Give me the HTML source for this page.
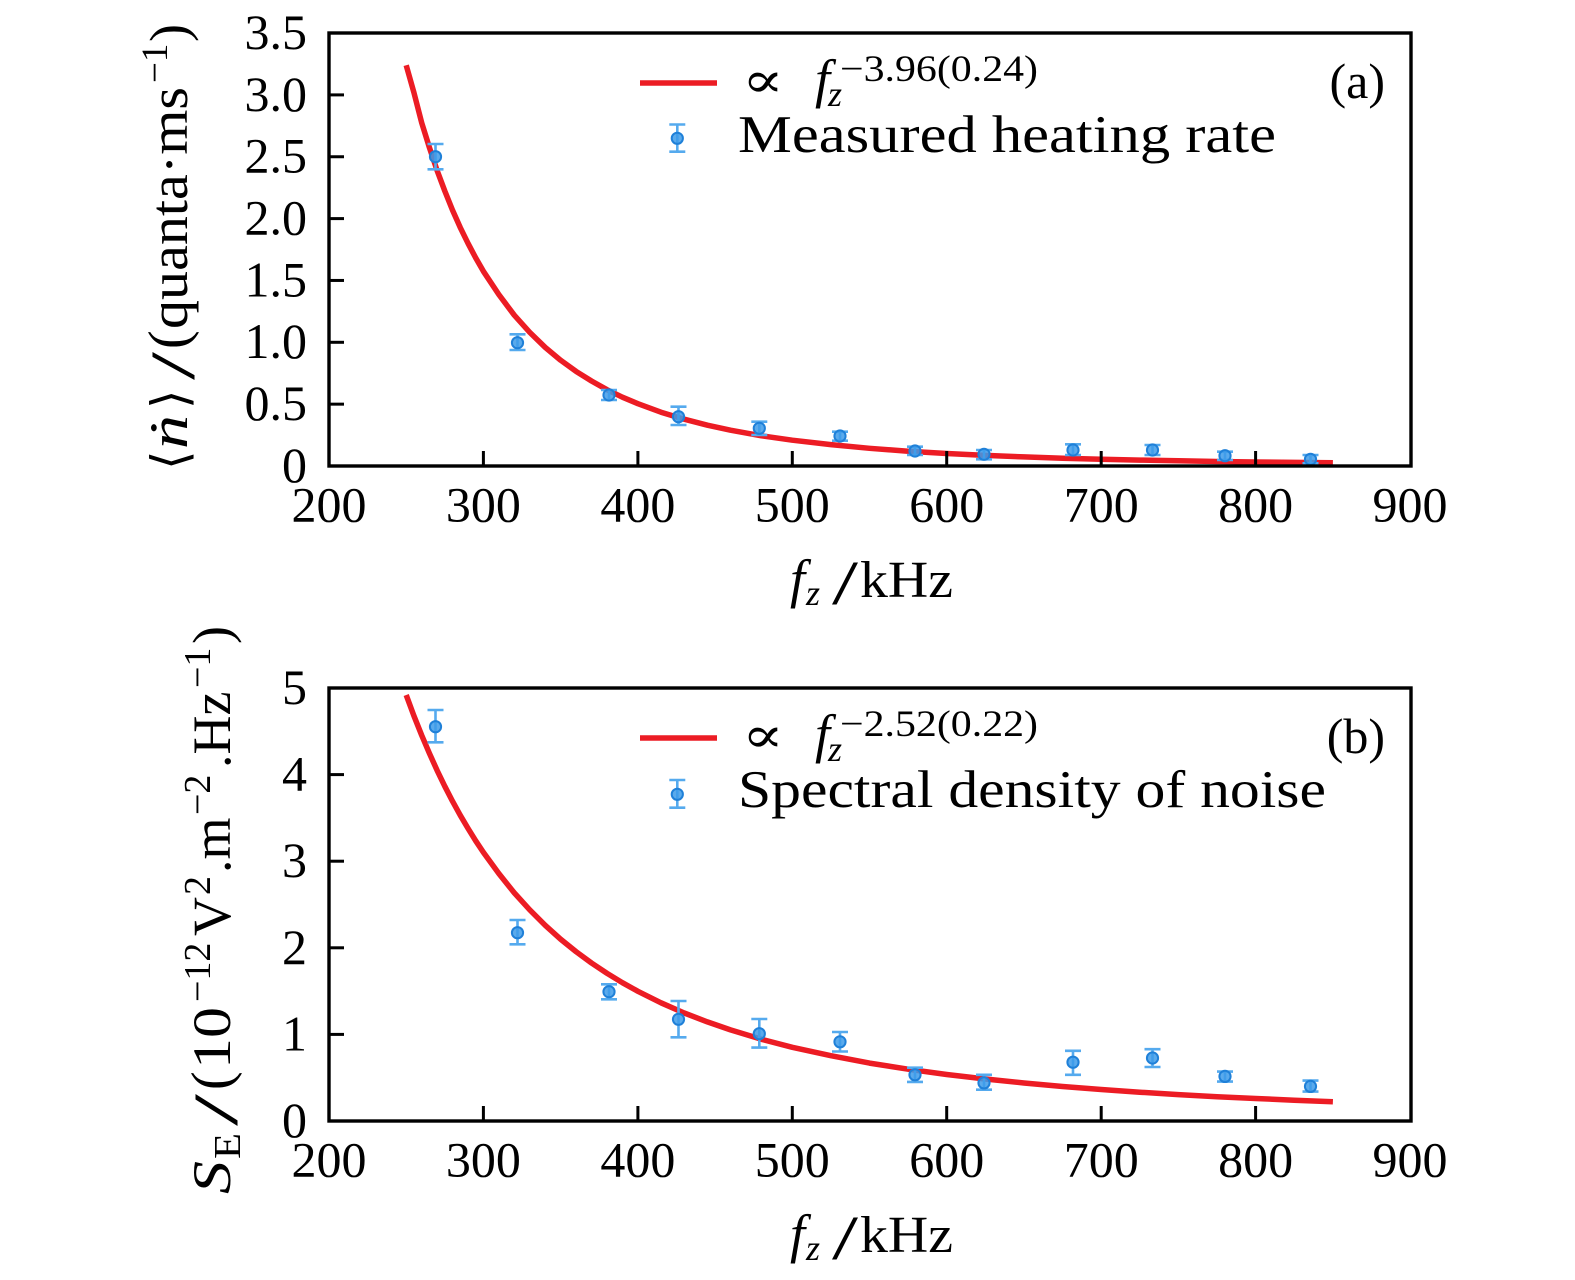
<!DOCTYPE html>
<html>
<head>
<meta charset="utf-8">
<style>
  html, body { margin:0; padding:0; background:#fff; }
  svg { display:block; }
  text { font-family: "Liberation Serif", "DejaVu Serif", serif; fill:#000; }
  .it { font-style: italic; }
  .tick { font-size: 50px; }
</style>
</head>
<body>
<svg width="1575" height="1280" viewBox="0 0 1575 1280" xmlns="http://www.w3.org/2000/svg">

  <!-- ================= PANEL (a) ================= -->
  <polyline fill="none" stroke="#ec1c24" stroke-width="5.5" stroke-linejoin="round" stroke-linecap="butt"
    points="406.2,65.2 413.9,92.5 421.7,122.8 429.4,147.5 437.1,170.5 444.8,191 452.5,210.1 460.2,227.4 468.0,243.3 475.7,257.9 483.4,271.3 498.8,294.5 514.3,315.2 529.7,332.3 545.2,347.4 560.6,360.2 576.1,371.4 591.5,381.0 607.0,389.7 622.4,397.2 637.9,403.7 661.0,412.2 684.2,419.2 707.4,425.2 730.5,430.2 761.4,435.8 792.3,440.2 830.9,444.6 869.5,448.3 908.1,451.2 946.7,453.5 985.4,455.4 1024.0,456.9 1062.6,458.2 1101.2,459.2 1139.8,460.1 1178.4,460.8 1217,461.5 1255.6,462.0 1294.2,462.4 1332.9,462.8"/>

  <g stroke="#55aaee" stroke-width="2.6" fill="none">
    <path d="M435.5,144 V169.3 M427.5,144 H443.5 M427.5,169.3 H443.5"/>
    <path d="M517.5,334.3 V350 M509.5,334.3 H525.5 M509.5,350 H525.5"/>
    <path d="M609,390 V400 M601,390 H617 M601,400 H617"/>
    <path d="M678.5,406.7 V425 M670.5,406.7 H686.5 M670.5,425 H686.5"/>
    <path d="M759.3,421.7 V435 M751.3,421.7 H767.3 M751.3,435 H767.3"/>
    <path d="M840,431.7 V440.7 M832,431.7 H848 M832,440.7 H848"/>
    <path d="M915,446.7 V455 M907,446.7 H923 M907,455 H923"/>
    <path d="M984,450 V459.3 M976,450 H992 M976,459.3 H992"/>
    <path d="M1073,444.3 V455 M1065,444.3 H1081 M1065,455 H1081"/>
    <path d="M1152.5,445 V455 M1144.5,445 H1160.5 M1144.5,455 H1160.5"/>
    <path d="M1225,451.7 V460 M1217,451.7 H1233 M1217,460 H1233"/>
    <path d="M1310.5,455 V463.3 M1302.5,455 H1318.5 M1302.5,463.3 H1318.5"/>
  </g>
  <g fill="#3d9be9" stroke="#1f80d8" stroke-width="2" fill-opacity="0.85">
    <circle cx="435.5" cy="156.7" r="5.6"/>
    <circle cx="517.5" cy="342.7" r="5.6"/>
    <circle cx="609" cy="395" r="5.6"/>
    <circle cx="678.5" cy="416.7" r="5.6"/>
    <circle cx="759.3" cy="428.3" r="5.6"/>
    <circle cx="840" cy="436" r="5.6"/>
    <circle cx="915" cy="451" r="5.6"/>
    <circle cx="984" cy="454.3" r="5.6"/>
    <circle cx="1073" cy="450" r="5.6"/>
    <circle cx="1152.5" cy="450" r="5.6"/>
    <circle cx="1225" cy="455.7" r="5.6"/>
    <circle cx="1310.5" cy="459.3" r="5.6"/>
  </g>

  <rect x="329" y="33" width="1082" height="433" fill="none" stroke="#000" stroke-width="3.4"/>
  <g stroke="#000" stroke-width="3">
    <line x1="329" y1="404.15" x2="344" y2="404.15"/>
    <line x1="329" y1="342.3" x2="344" y2="342.3"/>
    <line x1="329" y1="280.45" x2="344" y2="280.45"/>
    <line x1="329" y1="218.6" x2="344" y2="218.6"/>
    <line x1="329" y1="156.75" x2="344" y2="156.75"/>
    <line x1="329" y1="94.9" x2="344" y2="94.9"/>
    <line x1="483.4" y1="466" x2="483.4" y2="451"/>
    <line x1="637.9" y1="466" x2="637.9" y2="451"/>
    <line x1="792.3" y1="466" x2="792.3" y2="451"/>
    <line x1="946.7" y1="466" x2="946.7" y2="451"/>
    <line x1="1101.2" y1="466" x2="1101.2" y2="451"/>
    <line x1="1255.6" y1="466" x2="1255.6" y2="451"/>
  </g>

  <g class="tick" text-anchor="end">
    <text x="307" y="49">3.5</text>
    <text x="307" y="111">3.0</text>
    <text x="307" y="172.5">2.5</text>
    <text x="307" y="234.5">2.0</text>
    <text x="307" y="296.5">1.5</text>
    <text x="307" y="358">1.0</text>
    <text x="307" y="420">0.5</text>
    <text x="307" y="482">0</text>
  </g>
  <g class="tick" text-anchor="middle">
    <text x="329" y="521.5">200</text>
    <text x="483.4" y="521.5">300</text>
    <text x="637.9" y="521.5">400</text>
    <text x="792.3" y="521.5">500</text>
    <text x="946.7" y="521.5">600</text>
    <text x="1101.2" y="521.5">700</text>
    <text x="1255.6" y="521.5">800</text>
    <text x="1410" y="521.5">900</text>
  </g>

  <!-- x title (a) -->
  <text class="it" x="790" y="597" font-size="54">f</text>
  <text class="it" x="806" y="605" font-size="36">z</text>
  <text x="832" y="604" font-size="62" textLength="26" lengthAdjust="spacingAndGlyphs">/</text>
  <text x="860" y="597" font-size="52" textLength="93" lengthAdjust="spacingAndGlyphs">kHz</text>

  <!-- y title (a) -->
  <g transform="translate(187,470) rotate(-90)">
    <text x="0" y="0" font-size="50" style="font-family:'DejaVu Serif','DejaVu Sans',serif">⟨</text>
    <text class="it" x="21" y="0" font-size="54" textLength="34" lengthAdjust="spacingAndGlyphs">ṅ</text>
    <text x="61" y="0" font-size="50" style="font-family:'DejaVu Serif','DejaVu Sans',serif">⟩</text>
    <text x="90" y="7" font-size="62" textLength="28" lengthAdjust="spacingAndGlyphs">/</text>
    <text x="121" y="0" font-size="56">(</text>
    <text x="141" y="0" font-size="54" textLength="242" lengthAdjust="spacingAndGlyphs">quanta·ms</text>
    <text x="387" y="-20" font-size="37">−1</text>
    <text x="428" y="0" font-size="54">)</text>
  </g>

  <!-- legend (a) -->
  <line x1="640" y1="83" x2="717" y2="83" stroke="#ec1c24" stroke-width="5.5"/>
  <text x="742" y="97" font-size="50" style="font-family:'DejaVu Serif','Liberation Serif',serif" textLength="42" lengthAdjust="spacingAndGlyphs">∝</text>
  <text class="it" x="815" y="97" font-size="54">f</text>
  <text class="it" x="828" y="106" font-size="36">z</text>
  <text x="840" y="81" font-size="37" textLength="198" lengthAdjust="spacingAndGlyphs">−3.96(0.24)</text>
  <text x="1385" y="98" font-size="50" text-anchor="end">(a)</text>

  <g stroke="#55aaee" stroke-width="2.6" fill="none">
    <path d="M677.3,124.5 V151.7 M669.3,124.5 H685.3 M669.3,151.7 H685.3"/>
  </g>
  <circle cx="677.3" cy="138.3" r="5.6" fill="#3d9be9" fill-opacity="0.85" stroke="#1f80d8" stroke-width="2"/>
  <text x="738" y="152" font-size="53" textLength="538" lengthAdjust="spacingAndGlyphs">Measured heating rate</text>

  <!-- ================= PANEL (b) ================= -->
  <polyline fill="none" stroke="#ec1c24" stroke-width="5.5" stroke-linejoin="round"
    points="406.2,695.0 413.9,715.8 421.7,735.3 429.4,753.3 437.1,770.4 444.8,786.3 452.5,801.2 460.2,815.2 468.0,828.4 475.7,840.8 483.4,852.4 498.8,873.5 514.3,892.9 529.7,909.8 545.2,925.3 560.6,939.2 576.1,951.7 591.5,963.0 607.0,973.3 622.4,982.7 637.9,991.3 661.0,1002.8 684.2,1013.0 707.4,1021.9 730.5,1029.9 761.4,1039.3 792.3,1047.3 830.9,1055.7 869.5,1063.1 908.1,1069.2 946.7,1074.5 985.4,1079.0 1024.0,1083.0 1062.6,1086.5 1101.2,1089.5 1139.8,1092.2 1178.4,1094.6 1217,1096.7 1255.6,1098.5 1294.2,1100.2 1332.9,1101.7"/>

  <g stroke="#55aaee" stroke-width="2.6" fill="none">
    <path d="M435.5,710 V742.3 M427.5,710 H443.5 M427.5,742.3 H443.5"/>
    <path d="M517.5,920 V944.3 M509.5,920 H525.5 M509.5,944.3 H525.5"/>
    <path d="M609,984.3 V999.3 M601,984.3 H617 M601,999.3 H617"/>
    <path d="M678.5,1001 V1037.3 M670.5,1001 H686.5 M670.5,1037.3 H686.5"/>
    <path d="M759.3,1019 V1047.6 M751.3,1019 H767.3 M751.3,1047.6 H767.3"/>
    <path d="M840,1032 V1051.5 M832,1032 H848 M832,1051.5 H848"/>
    <path d="M915,1067.7 V1081.9 M907,1067.7 H923 M907,1081.9 H923"/>
    <path d="M984,1074.8 V1089.7 M976,1074.8 H992 M976,1089.7 H992"/>
    <path d="M1073,1050.8 V1074.8 M1065,1050.8 H1081 M1065,1074.8 H1081"/>
    <path d="M1152.5,1049.2 V1067 M1144.5,1049.2 H1160.5 M1144.5,1067 H1160.5"/>
    <path d="M1225,1071.6 V1081.6 M1217,1071.6 H1233 M1217,1081.6 H1233"/>
    <path d="M1310.5,1080.6 V1091.6 M1302.5,1080.6 H1318.5 M1302.5,1091.6 H1318.5"/>
  </g>
  <g fill="#3d9be9" stroke="#1f80d8" stroke-width="2" fill-opacity="0.85">
    <circle cx="435.5" cy="726.7" r="5.6"/>
    <circle cx="517.5" cy="932.7" r="5.6"/>
    <circle cx="609" cy="991.7" r="5.6"/>
    <circle cx="678.5" cy="1019.3" r="5.6"/>
    <circle cx="759.3" cy="1033.7" r="5.6"/>
    <circle cx="840" cy="1041.8" r="5.6"/>
    <circle cx="915" cy="1074.8" r="5.6"/>
    <circle cx="984" cy="1082.9" r="5.6"/>
    <circle cx="1073" cy="1062.2" r="5.6"/>
    <circle cx="1152.5" cy="1058" r="5.6"/>
    <circle cx="1225" cy="1076.4" r="5.6"/>
    <circle cx="1310.5" cy="1086.4" r="5.6"/>
  </g>

  <rect x="329" y="688" width="1082" height="433" fill="none" stroke="#000" stroke-width="3.4"/>
  <g stroke="#000" stroke-width="3">
    <line x1="329" y1="1034.4" x2="344" y2="1034.4"/>
    <line x1="329" y1="947.8" x2="344" y2="947.8"/>
    <line x1="329" y1="861.2" x2="344" y2="861.2"/>
    <line x1="329" y1="774.6" x2="344" y2="774.6"/>
    <line x1="483.4" y1="1121" x2="483.4" y2="1106"/>
    <line x1="637.9" y1="1121" x2="637.9" y2="1106"/>
    <line x1="792.3" y1="1121" x2="792.3" y2="1106"/>
    <line x1="946.7" y1="1121" x2="946.7" y2="1106"/>
    <line x1="1101.2" y1="1121" x2="1101.2" y2="1106"/>
    <line x1="1255.6" y1="1121" x2="1255.6" y2="1106"/>
  </g>

  <g class="tick" text-anchor="end">
    <text x="307" y="704">5</text>
    <text x="307" y="790.6">4</text>
    <text x="307" y="877.2">3</text>
    <text x="307" y="963.8">2</text>
    <text x="307" y="1050.4">1</text>
    <text x="307" y="1137">0</text>
  </g>
  <g class="tick" text-anchor="middle">
    <text x="329" y="1176.5">200</text>
    <text x="483.4" y="1176.5">300</text>
    <text x="637.9" y="1176.5">400</text>
    <text x="792.3" y="1176.5">500</text>
    <text x="946.7" y="1176.5">600</text>
    <text x="1101.2" y="1176.5">700</text>
    <text x="1255.6" y="1176.5">800</text>
    <text x="1410" y="1176.5">900</text>
  </g>

  <!-- x title (b) -->
  <text class="it" x="790" y="1252" font-size="54">f</text>
  <text class="it" x="806" y="1260" font-size="36">z</text>
  <text x="832" y="1259" font-size="62" textLength="26" lengthAdjust="spacingAndGlyphs">/</text>
  <text x="860" y="1252" font-size="52" textLength="93" lengthAdjust="spacingAndGlyphs">kHz</text>

  <!-- y title (b) -->
  <g transform="translate(230,1194) rotate(-90)">
    <text class="it" x="0" y="0" font-size="54" textLength="33" lengthAdjust="spacingAndGlyphs">S</text>
    <text x="35" y="10" font-size="38" textLength="26" lengthAdjust="spacingAndGlyphs">E</text>
    <text x="68" y="7" font-size="62" textLength="32" lengthAdjust="spacingAndGlyphs">/</text>
    <text x="104" y="0" font-size="56">(</text>
    <text x="125" y="0" font-size="54" textLength="62" lengthAdjust="spacingAndGlyphs">10</text>
    <text x="192" y="-20" font-size="38">−12</text>
    <text x="258" y="0" font-size="54">V</text>
    <text x="299" y="-20" font-size="38">2</text>
    <text x="321" y="0" font-size="54">.m</text>
    <text x="379" y="-20" font-size="38">−2</text>
    <text x="426" y="0" font-size="54">.Hz</text>
    <text x="506" y="-20" font-size="38">−1</text>
    <text x="550" y="0" font-size="54">)</text>
  </g>

  <!-- legend (b) -->
  <line x1="640" y1="738" x2="717" y2="738" stroke="#ec1c24" stroke-width="5.5"/>
  <text x="742" y="752" font-size="50" style="font-family:'DejaVu Serif','Liberation Serif',serif" textLength="42" lengthAdjust="spacingAndGlyphs">∝</text>
  <text class="it" x="815" y="752" font-size="54">f</text>
  <text class="it" x="828" y="761" font-size="36">z</text>
  <text x="840" y="736" font-size="37" textLength="198" lengthAdjust="spacingAndGlyphs">−2.52(0.22)</text>
  <text x="1385" y="753" font-size="50" text-anchor="end">(b)</text>

  <g stroke="#55aaee" stroke-width="2.6" fill="none">
    <path d="M677.3,780 V807.7 M669.3,780 H685.3 M669.3,807.7 H685.3"/>
  </g>
  <circle cx="677.3" cy="794.3" r="5.6" fill="#3d9be9" fill-opacity="0.85" stroke="#1f80d8" stroke-width="2"/>
  <text x="738" y="807" font-size="53" textLength="588" lengthAdjust="spacingAndGlyphs">Spectral density of noise</text>
</svg>
</body>
</html>
